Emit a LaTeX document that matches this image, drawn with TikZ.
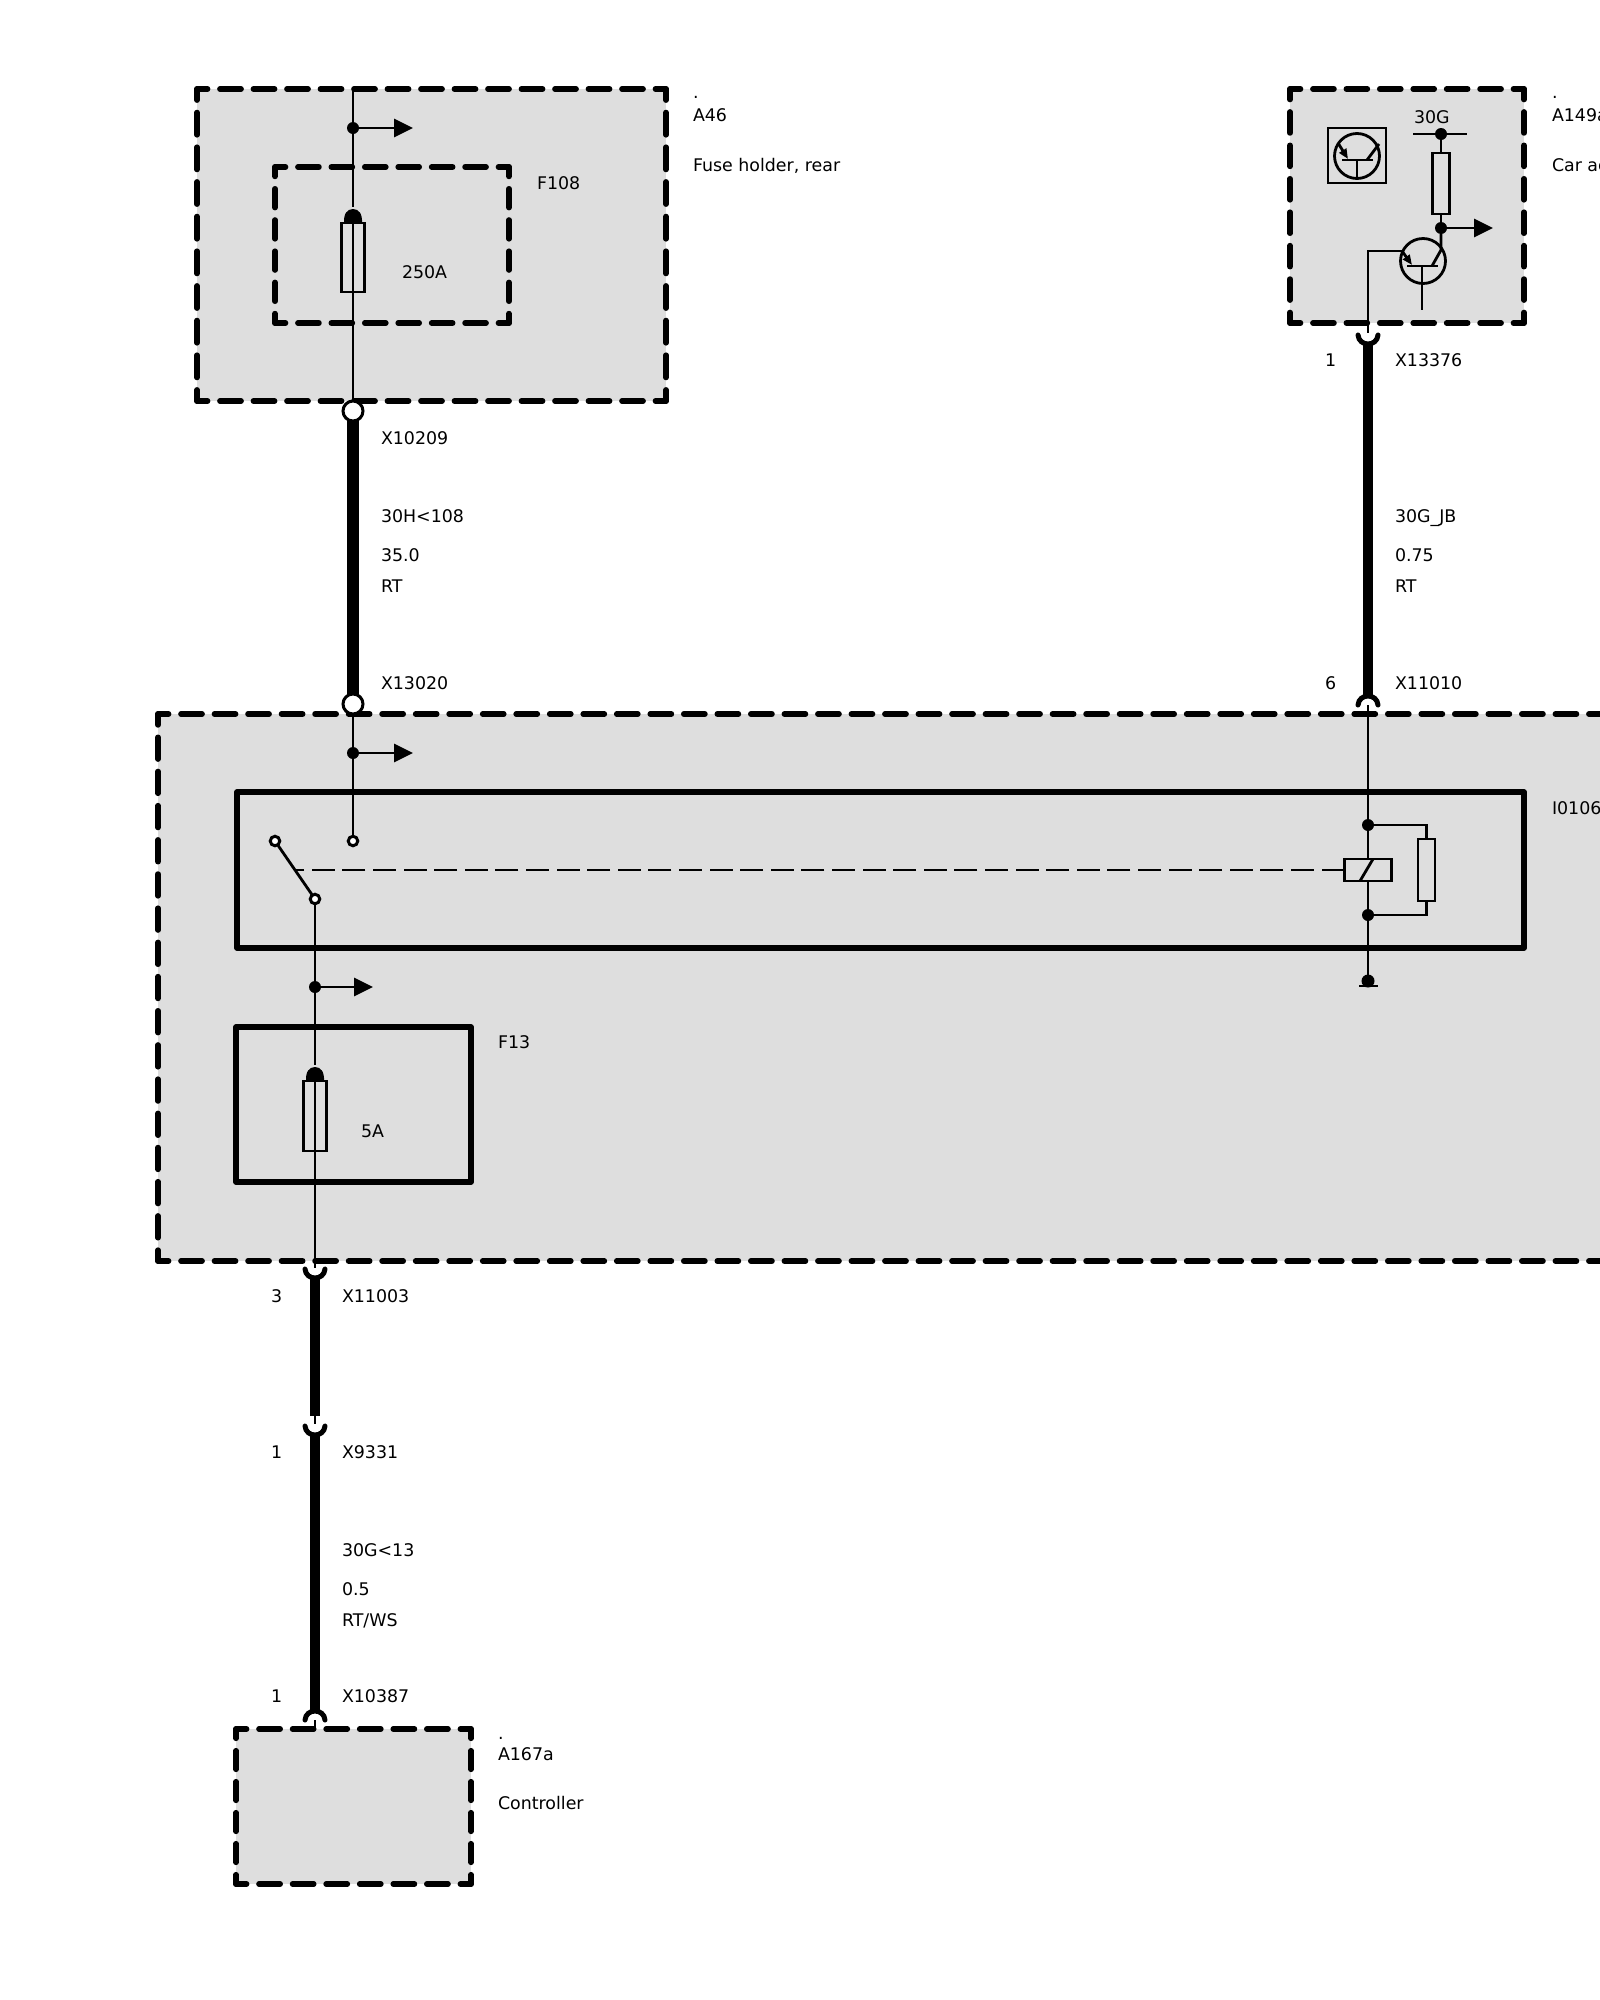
\documentclass[tikz,border=0pt]{standalone}
\usepackage{fontspec}
\setmainfont{DejaVu Sans}
\usetikzlibrary{arrows.meta,calc}
\definecolor{panel}{HTML}{DEDEDE}
\tikzset{
  x=1pt,y=-1pt,
  panelbox/.style={fill=panel,inner sep=0pt,outer sep=0pt},
  solidbox/.style={draw=black,line width=5.6pt,line join=round,inner sep=0pt,outer sep=0pt},
  thinbox/.style={draw=black,fill=panel,line width=2.8pt,inner sep=0pt,outer sep=0pt},
  plainbox/.style={draw=black,line width=2.8pt,inner sep=0pt,outer sep=0pt},
  wire/.style={draw=black,line width=2.8pt},
  heavy/.style={draw=black,line width=10.8pt},
  heavier/.style={draw=black,line width=11.5pt},
  cup/.style={draw=black,line width=5pt,line cap=round},
  dot/.style={circle,fill=black,minimum size=12pt,inner sep=0pt,outer sep=0pt},
  opencontact/.style={circle,draw=black,fill=white,line width=3pt,minimum size=9.5pt,inner sep=0pt,outer sep=0pt},
  bigcontact/.style={circle,draw=black,fill=white,line width=3pt,minimum size=20pt,inner sep=0pt,outer sep=0pt},
  tap/.style={wire,-{Triangle[length=19pt,width=18pt]}},
  emit/.style={wire,-{Triangle[length=10pt,width=8pt]}},
  lab/.style={anchor=base west,inner sep=0pt,outer sep=0pt,font=\fontsize{17.4}{20}\selectfont,text=black},
  linkline/.style={draw=black,line width=2.6pt,dash pattern=on 23pt off 7.6pt},
}
% one dashed side whose dashes fit it, with half a dash at either corner
\newcommand{\dside}[3]{%
  \path let \p1=($(#3)-(#2)$), \n1={veclen(\x1,\y1)}, \n2={max(1,round(\n1/33.4))}, \n3={\n1/\n2}, \n4={\n3-12.4} in
    [draw=black,line width=5.6pt,line cap=round,dash pattern=on \n4 off 12.4pt,dash phase={\n4/2}] (#2) -- (#3);}
\newcommand{\bx}[6]{\node[#1,minimum width={(#5-#3)*1pt},minimum height={(#6-#4)*1pt}] (#2) at ({(#3+#5)/2},{(#4+#6)/2}) {};}
\newcommand{\dbx}[5]{\bx{panelbox}{#1}{#2}{#3}{#4}{#5}
  \dside{#1}{#1.north west}{#1.north east}
  \dside{#1}{#1.north east}{#1.south east}
  \dside{#1}{#1.south west}{#1.south east}
  \dside{#1}{#1.north west}{#1.south west}}
\newcommand{\lb}[4]{\node[lab] (#1) at (#2,{#3+6.5}) {#4};}
\newcommand{\tapat}[4]{\node[dot] (#1) at (#2,#3) {}; \coordinate (#1t) at (#4,#3); \draw[tap] (#1) -- (#1t);}
\newcommand{\lowcup}[3]{\coordinate (#1) at (#2,#3); \draw[cup] ([shift={(-10,0)}]#1) .. controls ([shift={(-9,12)}]#1) and ([shift={(9,12)}]#1) .. ([shift={(10,0)}]#1);}
\newcommand{\highcup}[3]{\coordinate (#1) at (#2,#3); \draw[cup] ([shift={(-10,0)}]#1) .. controls ([shift={(-9,-12)}]#1) and ([shift={(9,-12)}]#1) .. ([shift={(10,0)}]#1);}
\newcommand{\fuse}[4]{\node[thinbox,minimum width=23pt,minimum height={(#4-#3)*1pt}] (#1) at (#2,{(#3+#4)/2}) {};
  \fill[black] ({#2-9},#3) .. controls ({#2-9.5},{#3-9}) and ({#2-6},{#3-14}) .. (#2,{#3-14}) .. controls ({#2+6},{#3-14}) and ({#2+9.5},{#3-9}) .. ({#2+9},#3) -- cycle;}
\begin{document}
\begin{tikzpicture}
\useasboundingbox (0,0) rectangle (1600,2000);
\clip (0,0) rectangle (1600,2000);
% panels
\dbx{A46}{197}{89}{666}{401}
\dbx{F108}{275}{167}{509}{323}
\dbx{A149}{1290}{89}{1524}{323}
\dbx{MAIN}{158}{714}{1700}{1261}
\bx{solidbox}{I0106}{237}{792}{1524}{948}
\bx{solidbox}{F13}{236}{1027}{471}{1182}
\dbx{A167}{236}{1729}{471}{1884}
% fuse holder
\coordinate (a46top) at (353,89);
\coordinate (f108gap) at (353,207);
\fuse{fuseA}{353}{223}{292}
\node[bigcontact] (x10209) at (353,411) {};
\draw[wire] (a46top) -- (f108gap);
\draw[wire] (fuseA.north) -- (x10209);
\tapat{tapA}{353}{128}{413}
% heavy wire 1
\node[bigcontact] (x13020) at (353,704) {};
\draw[heavier] (x10209) -- (x13020);
% main: switch
\node[opencontact] (cNO) at (353,841) {};
\node[opencontact] (cArm) at (275,841) {};
\node[opencontact] (cCom) at (315,899) {};
\draw[wire] (x13020) -- (cNO);
\tapat{tapB}{353}{753}{413}
\draw[wire] (cArm) -- (cCom);
% F13
\fuse{fuseB}{315}{1081}{1151}
\coordinate (fgapB) at (315,1065);
\lowcup{cupC}{315}{1269}
\draw[wire] (cCom) -- (fgapB);
\draw[wire] (fuseB.north) -- ($(cupC)+(0,-1)$);
\tapat{tapC}{315}{987}{373}
% lower heavy wires
\coordinate (h1) at (315,1416);
\draw[heavy] ($(cupC)+(0,8)$) -- (h1);
\lowcup{cupD}{315}{1426}
\draw[wire] (h1) -- ($(cupD)+(0,-2)$);
\highcup{cupE}{315}{1720}
\draw[heavy] ($(cupD)+(0,8)$) -- ($(cupE)+(0,-8)$);
\draw[wire] (cupE) -- (315,1729);
% right: A149
\node[plainbox,minimum width=58pt,minimum height=55pt] (tbox) at (1357,155.5) {};
\node[circle,plainbox,minimum size=45pt] (t1) at (1357,156) {};
\draw[wire] (1342,160) -- (1373,160);
\draw[wire] (1357,160) -- (t1.south);
\draw[wire] (1367,160) -- (1379,144);
\draw[emit] (1338,143) -- (1348,159);
\node[circle,plainbox,minimum size=45pt] (t2) at (1423,261) {};
\draw[wire] (1407,266) -- (1438,266);
\coordinate (t2b) at (1422,310);
\draw[wire] (1422,266) -- (t2b);
\node[plainbox,minimum width=17pt,minimum height=61pt] (rA) at (1441,183.5) {};
\node[dot] (n30) at (1441,134) {};
\coordinate (b30l) at (1413,134);
\coordinate (b30r) at (1467,134);
\draw[wire] (b30l) -- (b30r);
\draw[wire] (n30) -- (rA.north);
\tapat{tapD}{1441}{228}{1493}
\draw[wire] (rA.south) -- (tapD);
\draw[wire,line join=round] (tapD) -- (1441,250) -- (1432,266);
\lowcup{cupF}{1368}{335}
\draw[emit] (1402,251) -- (1412,265);
\draw[wire] (1402,251) -- (1368,251) -- ($(cupF)+(0,-2)$);
\highcup{cupG}{1368}{705}
\draw[heavy] ($(cupF)+(0,8)$) -- ($(cupG)+(0,-8)$);
% relay
\node[dot] (n1) at (1368,825) {};
\node[dot] (n2) at (1368,915) {};
\node[thinbox,minimum width=47pt,minimum height=22pt] (coil) at (1368,870) {};
\node[dot,minimum size=13pt] (gnd) at (1368,981) {};
\coordinate (g1) at (1359,986);
\coordinate (g2) at (1378,986);
\draw[wire] (cupG) -- (n1) -- (coil);
\draw[wire] (coil) -- (n2) -- (gnd);
\draw[wire] (g1) -- (g2);
\draw[wire] (1360,881) -- (1373,859);
\node[plainbox,minimum width=17pt,minimum height=62pt] (rB) at (1426.5,870) {};
\draw[wire] (n1) -| (rB.north);
\draw[wire] (n2) -| (rB.south);
\coordinate (linkL) at (296,870);
\draw[linkline] (coil.west) -- (linkL);
% labels
\lb{l1}{693}{92}{.}
\lb{l2}{693}{115}{A46}
\lb{l3}{693}{165}{Fuse holder, rear}
\lb{l4}{537}{183}{F108}
\lb{l5}{402}{272}{250A}
\lb{l6}{381}{438}{X10209}
\lb{l7}{381}{516}{30H<108}
\lb{l8}{381}{555}{35.0}
\lb{l9}{381}{586}{RT}
\lb{l10}{381}{683}{X13020}
\lb{l11}{1552}{92}{.}
\lb{l12}{1552}{115}{A149a}
\lb{l13}{1552}{165}{Car ac}
\lb{l14}{1414}{117}{30G}
\lb{l15}{1325}{360}{1}
\lb{l16}{1395}{360}{X13376}
\lb{l17}{1395}{516}{30G\_JB}
\lb{l18}{1395}{555}{0.75}
\lb{l19}{1395}{586}{RT}
\lb{l20}{1325}{683}{6}
\lb{l21}{1395}{683}{X11010}
\lb{l22}{1552}{808}{I0106}
\lb{l23}{498}{1042}{F13}
\lb{l24}{361}{1131}{5A}
\lb{l25}{271}{1296}{3}
\lb{l26}{342}{1296}{X11003}
\lb{l27}{271}{1452}{1}
\lb{l28}{342}{1452}{X9331}
\lb{l29}{342}{1550}{30G<13}
\lb{l30}{342}{1589}{0.5}
\lb{l31}{342}{1620}{RT/WS}
\lb{l32}{271}{1696}{1}
\lb{l33}{342}{1696}{X10387}
\lb{l34}{498}{1733}{.}
\lb{l35}{498}{1754}{A167a}
\lb{l36}{498}{1803}{Controller}
\end{tikzpicture}
\end{document}
